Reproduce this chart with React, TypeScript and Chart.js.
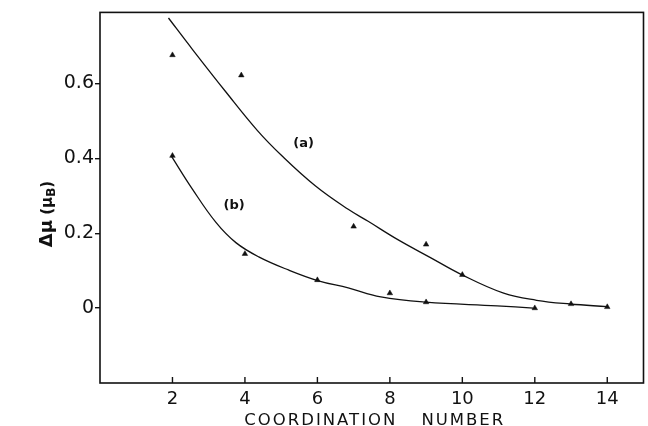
import React, { useEffect, useRef } from 'react';
import { Chart, registerables } from 'chart.js';

Chart.register(...registerables);

// ---- data ----
const xTickValues = [2, 4, 6, 8, 10, 12, 14];
const yTickValues = [0, 0.2, 0.4, 0.6];

// measured points (triangles)
const pointsAX = [2, 3.9, 7, 9, 10, 13, 14];
const pointsAY = [0.676, 0.622, 0.218, 0.17, 0.089, 0.011, 0.003];
const pointsBX = [2, 4, 6, 8, 9, 12];
const pointsBY = [0.407, 0.145, 0.075, 0.04, 0.016, 0.0];

// hand-drawn curves
const curveAX = [1.89, 2.56, 3.47, 4.34, 5.02, 5.94, 6.85, 7.4, 8.22, 9.12, 9.95, 11.14, 12.05, 12.97, 13.99];
const curveAY = [0.775, 0.69, 0.578, 0.475, 0.407, 0.327, 0.264, 0.232, 0.183, 0.135, 0.091, 0.04, 0.021, 0.011, 0.004];
const curveBX = [1.97, 2.55, 3.2, 3.75, 4.38, 5.2, 6.03, 6.85, 7.75, 8.99, 10.96, 11.96];
const curveBY = [0.406, 0.318, 0.229, 0.175, 0.137, 0.102, 0.073, 0.054, 0.03, 0.016, 0.006, 0.0];

const curveLabels = ['(a)', '(b)'];
const curveLabelX = [5.62, 3.7];
const curveLabelY = [0.439, 0.275];

const xTitleWords = ['COORDINATION', 'NUMBER'];

const zip = (xs: number[], ys: number[]) => xs.map((x, i) => ({ x, y: ys[i] }));

const INK = '#111';

const decorPlugin = {
  id: 'decor',
  afterDraw(chart: any) {
    const { ctx, chartArea, scales } = chart;
    const xs = scales.x;
    const ys = scales.y;
    ctx.save();
    // frame
    ctx.strokeStyle = INK;
    ctx.lineWidth = 1.6;
    ctx.strokeRect(chartArea.left, chartArea.top, chartArea.right - chartArea.left, chartArea.bottom - chartArea.top);
    // x ticks pointing inward
    ctx.lineWidth = 1.4;
    xTickValues.forEach((v) => {
      const px = xs.getPixelForValue(v);
      ctx.beginPath();
      ctx.moveTo(px, chartArea.bottom);
      ctx.lineTo(px, chartArea.bottom - 6);
      ctx.stroke();
    });
    // curve labels
    ctx.fillStyle = INK;
    ctx.font = 'bold 13px "DejaVu Sans"';
    ctx.textAlign = 'center';
    ctx.textBaseline = 'middle';
    curveLabels.forEach((t, i) => {
      ctx.fillText(t, xs.getPixelForValue(curveLabelX[i]), ys.getPixelForValue(curveLabelY[i]));
    });
    // x title
    ctx.font = '16.5px "DejaVu Sans"';
    (ctx as any).letterSpacing = '2px';
    ctx.textAlign = 'left';
    ctx.textBaseline = 'alphabetic';
    const w1 = ctx.measureText(xTitleWords[0]).width;
    const w2 = ctx.measureText(xTitleWords[1]).width;
    const gap = 24;
    const total = w1 + gap + w2;
    const cx = (chartArea.left + chartArea.right) / 2 + 3;
    const startX = cx - total / 2;
    ctx.fillText(xTitleWords[0], startX, 425);
    ctx.fillText(xTitleWords[1], startX + w1 + gap, 425);
    (ctx as any).letterSpacing = '0px';
    // y title: Δμ (μB) rotated
    ctx.translate(46, 214);
    ctx.rotate(-Math.PI / 2);
    const parts = [
      { t: 'Δμ', f: 'bold 18px "DejaVu Sans"', dy: 0 },
      { t: ' (μ', f: 'bold 15px "DejaVu Sans"', dy: 0 },
      { t: 'B', f: 'bold 12px "DejaVu Sans"', dy: 3 },
      { t: ')', f: 'bold 15px "DejaVu Sans"', dy: 0 },
    ];
    let tw = 0;
    parts.forEach((p) => {
      ctx.font = p.f;
      tw += ctx.measureText(p.t).width;
    });
    let x0 = -tw / 2;
    ctx.textBaseline = 'alphabetic';
    parts.forEach((p) => {
      ctx.font = p.f;
      ctx.fillText(p.t, x0, 6 + p.dy);
      x0 += ctx.measureText(p.t).width;
    });
    ctx.restore();
  },
};

export default function App() {
  const ref = useRef<HTMLCanvasElement | null>(null);
  useEffect(() => {
    if (!ref.current) return;
    const chart = new Chart(ref.current, {
      type: 'scatter',
      data: {
        datasets: [
          {
            label: 'curve a',
            data: zip(curveAX, curveAY),
            showLine: true,
            borderColor: INK,
            borderWidth: 1.3,
            pointRadius: 0,
            tension: 0.4,
          } as any,
          {
            label: 'curve b',
            data: zip(curveBX, curveBY),
            showLine: true,
            borderColor: INK,
            borderWidth: 1.3,
            pointRadius: 0,
            tension: 0.4,
          } as any,
          {
            label: 'points a',
            data: zip(pointsAX, pointsAY),
            showLine: false,
            pointStyle: 'triangle',
            pointRadius: 3.2,
            backgroundColor: INK,
            borderColor: INK,
            borderWidth: 0.5,
          },
          {
            label: 'points b',
            data: zip(pointsBX, pointsBY),
            showLine: false,
            pointStyle: 'triangle',
            pointRadius: 3.2,
            backgroundColor: INK,
            borderColor: INK,
            borderWidth: 0.5,
          },
        ],
      },
      options: {
        responsive: false,
        animation: false,
        layout: { padding: { left: 0, right: 3, top: 12, bottom: 0 } },
        plugins: { legend: { display: false }, tooltip: { enabled: false } },
        scales: {
          x: {
            type: 'linear',
            min: 0,
            max: 15,
            border: { display: false },
            grid: { display: false, drawTicks: false },
            afterBuildTicks: (s: any) => {
              s.ticks = xTickValues.map((v) => ({ value: v }));
            },
            afterFit: (s: any) => {
              s.height = 43;
            },
            ticks: {
              padding: 6,
              color: INK,
              font: { family: '"DejaVu Sans"', size: 18 },
              callback: (v: any) => String(v),
            },
          },
          y: {
            type: 'linear',
            min: -0.2,
            max: 0.79,
            border: { display: false },
            grid: { drawOnChartArea: false, drawTicks: true, tickLength: 5, color: INK, lineWidth: 1.4 },
            afterBuildTicks: (s: any) => {
              s.ticks = yTickValues.map((v) => ({ value: v }));
            },
            afterFit: (s: any) => {
              s.width = 100;
            },
            ticks: {
              padding: 1,
              color: INK,
              font: { family: '"DejaVu Sans"', size: 19 },
              callback: (v: any) => (Number(v) === 0 ? '0' : Number(v).toFixed(1)),
            },
          },
        },
      },
      plugins: [decorPlugin],
    });
    return () => chart.destroy();
  }, []);
  return (
    <div style={{ position: 'fixed', left: 0, top: 0, width: 648, height: 426, background: '#fff' }}>
      <canvas ref={ref} width={648} height={426} />
    </div>
  );
}
